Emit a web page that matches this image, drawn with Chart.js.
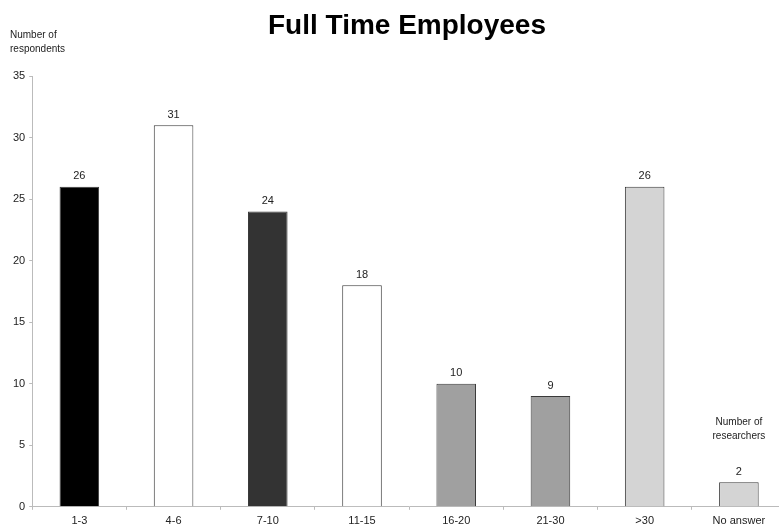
<!DOCTYPE html>
<html>
<head>
<meta charset="utf-8">
<script src="https://cdn.jsdelivr.net/npm/chart.js@4"></script>
<style>
  html, body { margin: 0; padding: 0; background: #fff; overflow: hidden; }
  #wrap { width: 790px; height: 529px; overflow: hidden; }
</style>
</head>
<body>
<div id="wrap"><canvas id="chart" width="790" height="533"></canvas></div>
<script>
// Employee size classes and how many respondents fell into each
const categories = ['1-3', '4-6', '7-10', '11-15', '16-20', '21-30', '>30', 'No answer'];
const respondents = [26, 31, 24, 18, 10, 9, 26, 2];
const barColors = ['#000000', '#ffffff', '#333333', '#ffffff', '#a0a0a0', '#a0a0a0', '#d4d4d4', '#d4d4d4'];
const yTicks = [0, 5, 10, 15, 20, 25, 30, 35];

const font = 'Liberation Sans, Arial, sans-serif';

// value labels above bars plus the free text annotations
const annotations = {
  id: 'annotations',
  afterDatasetsDraw(chart) {
    const ctx = chart.ctx;
    const meta = chart.getDatasetMeta(0);
    ctx.save();
    ctx.fillStyle = '#222';
    ctx.font = '11px ' + font;
    ctx.textAlign = 'center';
    ctx.textBaseline = 'bottom';
    meta.data.forEach((bar, i) => {
      ctx.fillText(respondents[i], bar.x, bar.y - 5);
    });

    // title
    ctx.fillStyle = '#000';
    ctx.font = 'bold 28px ' + font;
    ctx.textBaseline = 'middle';
    ctx.fillText('Full Time Employees', 407, 26);

    // axis caption
    ctx.fillStyle = '#222';
    ctx.font = '10px ' + font;
    ctx.textAlign = 'left';
    ctx.fillText('Number of', 10, 35);
    ctx.fillText('respondents', 10, 49);

    // caption over the last bar
    const last = meta.data[meta.data.length - 1];
    ctx.textAlign = 'center';
    ctx.fillText('Number of', last.x, 422);
    ctx.fillText('researchers', last.x, 436);
    ctx.restore();
  }
};

new Chart(document.getElementById('chart'), {
  type: 'bar',
  data: {
    labels: categories,
    datasets: [{
      data: respondents,
      backgroundColor: barColors,
      borderColor: '#3a3a3a',
      borderWidth: 1,
      categoryPercentage: 1,
      barPercentage: 0.42
    }]
  },
  options: {
    responsive: false,
    animation: false,
    layout: { padding: { top: 76, right: 4, left: 9, bottom: 0 } },
    plugins: {
      legend: { display: false },
      title: { display: false },
      tooltip: { enabled: false }
    },
    scales: {
      x: {
        grid: {
          display: true,
          offset: true,
          drawOnChartArea: false,
          drawTicks: true,
          tickLength: 3,
          color: '#bbb'
        },
        border: { color: '#bbb', width: 1 },
        ticks: {
          color: '#222',
          font: { family: font, size: 11 },
          padding: 5,
          maxRotation: 0,
          autoSkip: false
        }
      },
      y: {
        min: 0,
        max: 35,
        afterBuildTicks(scale) {
          scale.ticks = yTicks.map(v => ({ value: v }));
        },
        grid: {
          display: true,
          drawOnChartArea: false,
          drawTicks: true,
          tickLength: 3,
          color: '#bbb'
        },
        border: { color: '#bbb', width: 1 },
        ticks: {
          color: '#222',
          font: { family: font, size: 11 },
          padding: 4
        }
      }
    }
  },
  plugins: [annotations]
});
</script>
</body>
</html>
